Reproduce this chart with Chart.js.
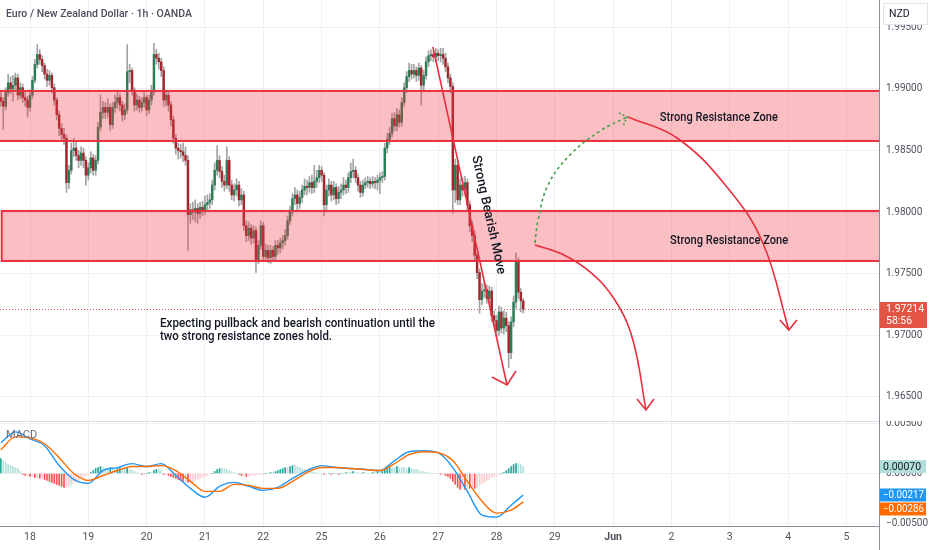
<!DOCTYPE html>
<html>
<head>
<meta charset="utf-8">
<script src="https://cdn.jsdelivr.net/npm/chart.js@4.4.1/dist/chart.umd.min.js"></script>
<style>
  html, body { margin: 0; padding: 0; background: #fff; }
  #wrap { position: relative; width: 932px; height: 550px; overflow: hidden; }
  #priceChart { position: absolute; left: 0; top: 0; width: 932px; height: 421px; }
  #macdChart { position: absolute; left: 0; top: 421px; width: 932px; height: 129px; }
</style>
</head>
<body>
<div id="wrap">
  <canvas id="priceChart" width="932" height="421"></canvas>
  <canvas id="macdChart" width="932" height="129"></canvas>
</div>
<script>
// time axis: one slot per trading hour, 0 = start of the 18th
const dayLabels = ['18', '19', '20', '21', '22', '25', '26', '27', '28', '29', 'Jun', '2', '3', '4', '5'];
const firstHour = -12;
const firstOpen = 1.9893;

const closes = [
  1.9890,1.9886,1.9897,1.9905,1.9900,1.9903,1.9909,1.9895,1.9901,1.9893,
  1.9891,1.9885,1.9895,1.9907,1.9920,1.9928,1.9924,1.9919,1.9912,1.9907,
  1.9911,1.9901,1.9891,1.9879,1.9868,1.9863,1.9860,1.9824,1.9834,1.9850,
  1.9852,1.9846,1.9842,1.9848,1.9842,1.9830,1.9836,1.9844,1.9834,1.9842,
  1.9869,1.9881,1.9885,1.9881,1.9885,1.9871,1.9885,1.9889,1.9893,1.9887,
  1.9879,1.9883,1.9914,1.9915,1.9899,1.9887,1.9891,1.9885,1.9889,1.9893,
  1.9883,1.9891,1.9898,1.9928,1.9925,1.9922,1.9915,1.9891,1.9895,1.9887,
  1.9875,1.9860,1.9852,1.9850,1.9849,1.9846,1.9842,1.9798,1.9802,1.9800,
  1.9803,1.9799,1.9804,1.9802,1.9806,1.9808,1.9810,1.9822,1.9834,1.9842,
  1.9833,1.9825,1.9822,1.9842,1.9822,1.9814,1.9818,1.9822,1.9810,1.9814,
  1.9789,1.9781,1.9787,1.9779,1.9785,1.9761,1.9773,1.9789,1.9764,1.9769,
  1.9763,1.9769,1.9764,1.9773,1.9771,1.9775,1.9777,1.9781,1.9793,1.9800,
  1.9811,1.9814,1.9807,1.9812,1.9818,1.9821,1.9820,1.9824,1.9820,1.9825,
  1.9828,1.9834,1.9830,1.9806,1.9818,1.9822,1.9814,1.9820,1.9811,1.9816,
  1.9818,1.9822,1.9820,1.9828,1.9833,1.9834,1.9828,1.9822,1.9816,1.9822,
  1.9824,1.9825,1.9823,1.9825,1.9824,1.9826,1.9828,1.9829,1.9852,1.9859,
  1.9864,1.9876,1.9870,1.9879,1.9873,1.9889,1.9901,1.9910,1.9915,1.9912,
  1.9915,1.9911,1.9917,1.9903,1.9911,1.9922,1.9927,1.9928,1.9926,1.9929,
  1.9927,1.9928,1.9925,1.9918,1.9909,1.9902,1.9818,1.9838,1.9810,1.9822,
  1.9818,1.9824,1.9806,1.9789,1.9781,1.9765,1.9751,1.9729,1.9736,1.9737,
  1.9730,1.9736,1.9716,1.9712,1.9704,1.9719,1.9706,1.9714,1.9708,1.9686,
  1.9711,1.9727,1.9760,1.9735,1.9728,1.97214
];

const highs = [
  1.9897,1.9893,1.9901,1.9912,1.9910,1.9911,1.9913,1.9912,1.9905,1.9904,
  1.9897,1.9894,1.9899,1.9910,1.9924,1.9936,1.9932,1.9927,1.9921,1.9916,
  1.9915,1.9913,1.9904,1.9893,1.9882,1.9872,1.9868,1.9863,1.9838,1.9856,
  1.9860,1.9857,1.9850,1.9853,1.9852,1.9845,1.9840,1.9849,1.9847,1.9846,
  1.9873,1.9895,1.9890,1.9889,1.9892,1.9888,1.9889,1.9895,1.9899,1.9896,
  1.9890,1.9888,1.9936,1.9920,1.9917,1.9901,1.9896,1.9894,1.9893,1.9897,
  1.9895,1.9895,1.9903,1.9937,1.9932,1.9929,1.9925,1.9918,1.9899,1.9898,
  1.9890,1.9878,1.9863,1.9856,1.9855,1.9856,1.9853,1.9846,1.9807,1.9808,
  1.9810,1.9807,1.9808,1.9809,1.9813,1.9814,1.9815,1.9826,1.9840,1.9854,
  1.9846,1.9837,1.9830,1.9853,1.9845,1.9826,1.9823,1.9827,1.9825,1.9819,
  1.9817,1.9793,1.9792,1.9790,1.9789,1.9788,1.9777,1.9793,1.9792,1.9774,
  1.9773,1.9773,1.9772,1.9777,1.9777,1.9779,1.9781,1.9786,1.9797,1.9805,
  1.9815,1.9820,1.9818,1.9817,1.9822,1.9827,1.9826,1.9829,1.9830,1.9838,
  1.9834,1.9838,1.9837,1.9832,1.9822,1.9827,1.9825,1.9825,1.9823,1.9821,
  1.9823,1.9828,1.9826,1.9832,1.9840,1.9843,1.9837,1.9831,1.9825,1.9826,
  1.9828,1.9829,1.9828,1.9829,1.9828,1.9830,1.9832,1.9833,1.9856,1.9864,
  1.9869,1.9880,1.9881,1.9884,1.9883,1.9893,1.9905,1.9914,1.9921,1.9920,
  1.9920,1.9918,1.9921,1.9919,1.9915,1.9926,1.9931,1.9932,1.9931,1.9933,
  1.9932,1.9933,1.9933,1.9929,1.9921,1.9912,1.9905,1.9843,1.9842,1.9827,
  1.9828,1.9829,1.9827,1.9809,1.9793,1.9785,1.9768,1.9754,1.9742,1.9743,
  1.9741,1.9740,1.9739,1.9720,1.9716,1.9724,1.9723,1.9720,1.9719,1.9711,
  1.9715,1.9732,1.9767,1.9763,1.9738,1.9730
];

const lows = [
  1.9886,1.9867,1.9883,1.9894,1.9896,1.9890,1.9899,1.9891,1.9892,1.9889,
  1.9886,1.9877,1.9882,1.9892,1.9905,1.9917,1.9920,1.9914,1.9908,1.9902,
  1.9903,1.9897,1.9887,1.9875,1.9862,1.9858,1.9855,1.9816,1.9819,1.9831,
  1.9845,1.9842,1.9836,1.9838,1.9836,1.9822,1.9826,1.9832,1.9830,1.9830,
  1.9839,1.9866,1.9876,1.9876,1.9877,1.9866,1.9868,1.9881,1.9884,1.9882,
  1.9874,1.9875,1.9880,1.9905,1.9895,1.9882,1.9883,1.9881,1.9882,1.9885,
  1.9878,1.9880,1.9887,1.9895,1.9920,1.9916,1.9910,1.9886,1.9886,1.9882,
  1.9870,1.9856,1.9847,1.9843,1.9844,1.9841,1.9838,1.9769,1.9791,1.9794,
  1.9792,1.9791,1.9795,1.9797,1.9798,1.9801,1.9803,1.9806,1.9818,1.9830,
  1.9828,1.9820,1.9817,1.9819,1.9817,1.9810,1.9809,1.9813,1.9805,1.9806,
  1.9785,1.9776,1.9777,1.9774,1.9775,1.9751,1.9758,1.9770,1.9760,1.9760,
  1.9759,1.9758,1.9760,1.9761,1.9766,1.9767,1.9770,1.9773,1.9778,1.9790,
  1.9797,1.9806,1.9802,1.9803,1.9808,1.9814,1.9814,1.9816,1.9815,1.9816,
  1.9820,1.9824,1.9825,1.9797,1.9802,1.9813,1.9809,1.9810,1.9806,1.9807,
  1.9811,1.9814,1.9815,1.9816,1.9824,1.9828,1.9824,1.9817,1.9812,1.9813,
  1.9819,1.9820,1.9819,1.9820,1.9819,1.9818,1.9815,1.9824,1.9826,1.9848,
  1.9855,1.9861,1.9866,1.9866,1.9869,1.9870,1.9886,1.9897,1.9906,1.9908,
  1.9909,1.9906,1.9907,1.9887,1.9899,1.9908,1.9918,1.9923,1.9922,1.9922,
  1.9923,1.9922,1.9920,1.9914,1.9905,1.9897,1.9799,1.9808,1.9806,1.9806,
  1.9813,1.9814,1.9801,1.9784,1.9776,1.9760,1.9746,1.9718,1.9725,1.9731,
  1.9726,1.9726,1.9711,1.9707,1.9699,1.9700,1.9702,1.9701,1.9703,1.9674,
  1.9681,1.9707,1.9722,1.9730,1.9719,1.9718
];

// MACD (12, 26, 9)
const macdHours = [-12,-6,0,6,12,18,24,30,36,42,48,54,60,66,72,78,84,90,96,102,108,114,120,126,132,138,144,150,156,162,168,174,180,186,192,198,203];
const macdLine = [
  0.0031,0.0042,0.0035,0.0028,0.0008,-0.0006,-0.0010,0.0003,0.0006,0.0010,0.0007,0.0010,-0.0002,
  -0.0015,-0.0024,-0.0013,-0.0009,-0.0013,-0.0017,-0.0014,-0.0005,0.0003,0.0008,0.0006,0.0005,
  0.0004,0.0003,0.0013,0.0022,0.0023,0.0021,0.0006,-0.0018,-0.0042,-0.0044,-0.0032,-0.00217
];
const signalLine = [
  0.0024,0.0037,0.0036,0.0030,0.0016,0.0000,-0.0007,-0.0002,0.0003,0.0007,0.0007,0.0008,0.0003,
  -0.0008,-0.0018,-0.0018,-0.0011,-0.0012,-0.0015,-0.0015,-0.0008,0.0001,0.0006,0.0006,0.0005,
  0.0004,0.0003,0.0010,0.0019,0.0022,0.0021,0.0013,-0.0008,-0.0028,-0.0040,-0.0037,-0.00286
];
const macdHist = [
  0.0015,0.0013,0.0011,0.0009,0.0008,0.0007,0.0006,0.0005,0.0002,-0.0001,
  -0.0002,-0.0002,-0.0003,-0.0003,-0.0004,-0.0004,-0.0005,-0.0005,-0.0006,-0.0007,
  -0.0008,-0.0009,-0.0010,-0.0011,-0.0012,-0.0013,-0.0014,-0.0014,-0.0013,-0.0011,
  -0.0010,-0.0008,-0.0007,-0.0005,-0.0004,-0.0002,-0.0001,0.0001,0.0003,0.0005,
  0.0006,0.0007,0.0006,0.0005,0.0005,0.0006,0.0005,0.0004,0.0005,0.0006,
  0.0005,0.0005,0.0006,0.0004,0.0003,0.0002,0.0001,0,-0.0001,-0.0001,
  0,0.0001,0.0001,0.0003,0.0004,0.0004,0.0003,-0.0001,-0.0001,-0.0002,
  -0.0003,-0.0004,-0.0005,-0.0006,-0.0007,-0.0008,-0.0008,-0.0009,-0.0009,-0.0008,
  -0.0007,-0.0006,-0.0005,-0.0004,-0.0003,-0.0002,-0.0001,0,0.0002,0.0004,
  0.0005,0.0005,0.0005,0.0004,0.0003,0.0002,0.0001,0,-0.0001,-0.0002,
  -0.0002,-0.0003,-0.0003,-0.0002,-0.0002,-0.0002,-0.0001,-0.0001,-0.0001,0,
  0,0.0001,0.0001,0.0002,0.0003,0.0004,0.0005,0.0006,0.0006,0.0007,
  0.0008,0.0008,0.0007,0.0006,0.0005,0.0004,0.0003,0.0003,0.0002,0.0001,
  0.0001,0,0,-0.0001,-0.0001,0,-0.0001,0,0,-0.0001,
  0,0,0.0001,0.0001,0.0001,0.0002,0.0001,0.0001,0,0.0001,
  0.0001,0,0,0.0001,0.0001,0.0002,0.0002,0.0003,0.0004,0.0005,
  0.0006,0.0006,0.0006,0.0007,0.0006,0.0006,0.0006,0.0005,0.0006,0.0005,
  0.0004,0.0004,0.0003,0.0002,0.0002,0.0001,0.0001,0,0,0,
  0,-0.0001,-0.0001,-0.0002,-0.0003,-0.0005,-0.0008,-0.0011,-0.0014,-0.0016,
  -0.0015,-0.0016,-0.0014,-0.0015,-0.0014,-0.0015,-0.0014,-0.0012,-0.0010,-0.0009,
  -0.0007,-0.0006,-0.0004,-0.0003,-0.0002,-0.0001,0,0.0001,0.0003,0.0005,
  0.0007,0.0009,0.0010,0.0010,0.0009,0.0007
];

// drawings on the price pane, in [hour, price]
const zones = [
  { top: 1.98984, bottom: 1.98578, from: -40 },
  { top: 1.98010, bottom: 1.97604, from: -11.65 }
];
const movePath  = [[165.8, 1.99341], [196.3, 1.96597]];
const moveHead  = [[190.1, 1.96662], [196.3, 1.96597], [200.0, 1.96711]];
const greenPath = [[207.8, 1.97750], [209.1, 1.97937], [213.2, 1.98221], [222.2, 1.98464], [234.6, 1.98659], [245.7, 1.98773]];
const greenHead = [[242.4, 1.98805], [245.7, 1.98773], [244.0, 1.98692]];
const dropPath  = [[207.8, 1.97734], [218.9, 1.97661], [230.5, 1.97515], [240.7, 1.97287], [248.1, 1.96963], [253.5, 1.96395]];
const dropHead  = [[249.8, 1.96484], [253.5, 1.96395], [256.8, 1.96484]];
const farPath   = [[246.1, 1.98773], [266.3, 1.98602], [286.8, 1.98205], [301.6, 1.97750], [312.3, 1.97044]];
const farHead   = [[308.6, 1.97125], [312.3, 1.97044], [315.6, 1.97125]];
const notes = [
  { text: 'Strong Resistance Zone', x: 283.5, y: 1.98765, align: 'center', width: 118 },
  { text: 'Strong Resistance Zone', x: 287.7, y: 1.97766, align: 'center', width: 118 },
  { text: 'Expecting pullback and bearish continuation until the', x: 53.5, y: 1.97093, align: 'left', width: 275 },
  { text: 'two strong resistance zones hold.', x: 53.5, y: 1.96987, align: 'left', width: 172 }
];
const moveNote = { text: 'Strong Bearish Move', x: 188.6, y: 1.97977, width: 132 };

Chart.defaults.font.family = "Roboto, 'Noto Sans', sans-serif";
Chart.defaults.color = '#50535e';

const gridColor = '#eef0f4';
const axisColor = '#8a8d96';
const upColor = '#2a7d57';
const downColor = '#a3262c';
const wickColor = '#a3a3a3';
const drawRed = '#e8303e';
const xMin = -12.35, xMax = 349.4;

const hours = closes.map((c, i) => firstHour + i);
const opens = closes.map((c, i) => (i ? closes[i - 1] : firstOpen));

function toPts(list) {
  return list.map(p => ({ x: p[0], y: p[1] }));
}
function pathSet(list, color, dash, tension) {
  return {
    type: 'line', data: toPts(list), borderColor: color, borderWidth: 1.6,
    borderDash: dash, pointRadius: 0, tension: tension, fill: false, order: 0
  };
}
// fixed axis sizes so both panes share the same x pixels
function lockAxis(w, h) {
  return s => {
    if (w != null) s.width = w;
    if (h != null) s.height = h;
    s.paddingTop = 0; s.paddingBottom = 0; s.paddingLeft = 0; s.paddingRight = 0;
  };
}
function fmt(v) {
  if (Math.abs(v) < 1e-9) return '0.00000';
  return (v < 0 ? '\u2212' : '') + Math.abs(v).toFixed(5);
}

const priceDecor = {
  id: 'priceDecor',
  beforeDatasetsDraw(chart) {
    const { ctx, chartArea: a, scales: { y } } = chart;
    const py = Math.round(y.getPixelForValue(closes[closes.length - 1])) + 0.5;
    ctx.save();
    ctx.strokeStyle = '#e25545';
    ctx.lineWidth = 1;
    ctx.setLineDash([1, 2]);
    ctx.beginPath();
    ctx.moveTo(a.left, py);
    ctx.lineTo(a.right, py);
    ctx.stroke();
    ctx.restore();
  },
  afterDatasetDraw(chart, args) {
    if (args.index !== 1) return;
    const { ctx, chartArea: a, scales: { x, y } } = chart;
    ctx.save();
    ctx.beginPath();
    ctx.rect(a.left, a.top, a.right - a.left, a.bottom - a.top);
    ctx.clip();
    zones.forEach(z => {
      const x0 = x.getPixelForValue(z.from);
      const y0 = y.getPixelForValue(z.top);
      const y1 = y.getPixelForValue(z.bottom);
      ctx.fillStyle = 'rgba(242, 54, 69, 0.32)';
      ctx.fillRect(x0, y0, a.right + 10 - x0, y1 - y0);
      ctx.strokeStyle = drawRed;
      ctx.lineWidth = 2;
      ctx.strokeRect(x0, y0, a.right + 10 - x0, y1 - y0);
    });
    ctx.restore();
  },
  afterDraw(chart) {
    const { ctx, chartArea: a, scales: { x, y } } = chart;
    ctx.save();
    ctx.fillStyle = '#131722';
    ctx.textBaseline = 'middle';
    ctx.font = "500 12px Roboto, 'Noto Sans', sans-serif";
    notes.forEach(n => {
      ctx.textAlign = n.align;
      ctx.fillText(n.text, x.getPixelForValue(n.x), y.getPixelForValue(n.y), n.width);
    });
    // label along the bearish move line
    const ax = x.getPixelForValue(movePath[0][0]), ay = y.getPixelForValue(movePath[0][1]);
    const bx = x.getPixelForValue(movePath[1][0]), by = y.getPixelForValue(movePath[1][1]);
    ctx.save();
    ctx.translate(x.getPixelForValue(moveNote.x), y.getPixelForValue(moveNote.y));
    ctx.rotate(Math.atan2(by - ay, bx - ax));
    ctx.textAlign = 'center';
    ctx.font = "500 13px Roboto, 'Noto Sans', sans-serif";
    ctx.fillText(moveNote.text, 0, 0, moveNote.width);
    ctx.restore();

    // header
    ctx.textAlign = 'left';
    ctx.fillStyle = '#4a4e5a';
    ctx.font = "500 11.5px Roboto, 'Noto Sans', sans-serif";
    ctx.fillText('Euro / New Zealand Dollar \u00b7 1h \u00b7 OANDA', 6, 14, 186);

    // currency box on the price axis
    ctx.fillStyle = '#fff';
    ctx.fillRect(883, 3, 44, 22);
    ctx.strokeStyle = '#e0e3eb';
    ctx.lineWidth = 1;
    ctx.strokeRect(883.5, 3.5, 44, 21);
    ctx.fillStyle = '#131722';
    ctx.font = "10.5px Roboto, 'Noto Sans', sans-serif";
    ctx.fillText('NZD', 889, 14.5);

    // last price tag
    const last = closes[closes.length - 1];
    const py = y.getPixelForValue(last);
    ctx.fillStyle = '#e25545';
    ctx.fillRect(a.right + 1, py - 7, 47, 26);
    ctx.fillStyle = '#fff';
    ctx.font = "10.5px Roboto, 'Noto Sans', sans-serif";
    ctx.fillText(last.toFixed(5), 886, py + 0.5, 38);
    ctx.fillText('58:56', 886, py + 12);
    ctx.restore();
  }
};

new Chart(document.getElementById('priceChart'), {
  type: 'bar',
  data: {
    datasets: [
      {
        label: 'wicks',
        data: hours.map((h, i) => ({ x: h, y: [lows[i], highs[i]] })),
        backgroundColor: wickColor,
        barThickness: 1,
        grouped: false,
        order: 2
      },
      {
        label: 'bodies',
        data: hours.map((h, i) => ({ x: h, y: [opens[i], closes[i]] })),
        backgroundColor: closes.map((c, i) => (c >= opens[i] ? upColor : downColor)),
        barThickness: 1.8,
        minBarLength: 1,
        grouped: false,
        order: 1
      },
      pathSet(movePath, drawRed, [], 0),
      pathSet(moveHead, drawRed, [], 0),
      pathSet(dropPath, drawRed, [], 0.4),
      pathSet(dropHead, drawRed, [], 0),
      pathSet(farPath, drawRed, [], 0.4),
      pathSet(farHead, drawRed, [], 0),
      pathSet(greenPath, '#43a047', [3, 3], 0.4),
      pathSet(greenHead, '#43a047', [2, 2], 0)
    ]
  },
  options: {
    responsive: false,
    animation: false,
    events: [],
    layout: { padding: 0 },
    plugins: { legend: { display: false }, tooltip: { enabled: false } },
    scales: {
      x: {
        type: 'linear', min: xMin, max: xMax, offset: false,
        grid: { color: gridColor, drawTicks: false, offset: false },
        border: { display: false },
        ticks: { display: false, stepSize: 24, includeBounds: false },
        afterFit: lockAxis(null, 0)
      },
      y: {
        position: 'right', min: 1.96305, max: 1.99722, beginAtZero: false,
        grid: { color: gridColor, drawTicks: false },
        border: { color: axisColor },
        ticks: { stepSize: 0.005, includeBounds: false, padding: 7, color: '#50535e', font: { size: 10 }, callback: v => v.toFixed(5) },
        afterFit: lockAxis(53, null)
      }
    }
  },
  plugins: [priceDecor]
});

const histColors = macdHist.map((v, i) => {
  const prev = i ? macdHist[i - 1] : 0;
  if (v >= 0) return v > prev ? '#26a69a' : '#b2dfdb';
  return v < prev ? '#ff5252' : '#ffcdd2';
});

const macdDecor = {
  id: 'macdDecor',
  afterDraw(chart) {
    const { ctx, chartArea: a, scales: { y } } = chart;
    ctx.save();
    ctx.strokeStyle = '#dcdfe6';
    ctx.lineWidth = 1;
    ctx.beginPath();
    ctx.moveTo(0, 0.5);
    ctx.lineTo(a.right, 0.5);
    ctx.stroke();
    ctx.strokeStyle = axisColor;
    ctx.beginPath();
    ctx.moveTo(a.right + 0.5, a.bottom);
    ctx.lineTo(a.right + 0.5, chart.height);
    ctx.stroke();

    ctx.fillStyle = '#6a6d78';
    ctx.font = "11px Roboto, 'Noto Sans', sans-serif";
    ctx.textBaseline = 'middle';
    ctx.textAlign = 'left';
    ctx.fillText('MACD', 6, 14);

    const tags = [
      { v: macdHist[macdHist.length - 1], bg: '#b2dfdb', fg: '#131722' },
      { v: macdLine[macdLine.length - 1], bg: '#2196f3', fg: '#fff' },
      { v: signalLine[signalLine.length - 1], bg: '#ff6d00', fg: '#fff' }
    ].map(t => Object.assign(t, { py: y.getPixelForValue(t.v) }))
     .sort((p, q) => p.py - q.py);
    for (let i = 1; i < tags.length; i++) {
      if (tags[i].py - tags[i - 1].py < 14) tags[i].py = tags[i - 1].py + 14;
    }
    ctx.font = "10.5px Roboto, 'Noto Sans', sans-serif";
    tags.forEach(t => {
      ctx.fillStyle = t.bg;
      ctx.fillRect(a.right + 1, t.py - 6.5, 46, 13);
      ctx.fillStyle = t.fg;
      ctx.fillText(fmt(t.v), a.right + 4, t.py + 0.5, 41);
    });
    ctx.restore();
  }
};

new Chart(document.getElementById('macdChart'), {
  type: 'bar',
  data: {
    datasets: [
      {
        label: 'Histogram',
        data: hours.map((h, i) => ({ x: h, y: macdHist[i] })),
        backgroundColor: histColors,
        barThickness: 1,
        grouped: false,
        order: 2
      },
      {
        type: 'line', label: 'MACD',
        data: macdHours.map((h, i) => ({ x: h, y: macdLine[i] })),
        borderColor: '#2196f3', borderWidth: 1.4, pointRadius: 0,
        cubicInterpolationMode: 'monotone', order: 1
      },
      {
        type: 'line', label: 'Signal',
        data: macdHours.map((h, i) => ({ x: h, y: signalLine[i] })),
        borderColor: '#ff6d00', borderWidth: 1.4, pointRadius: 0,
        cubicInterpolationMode: 'monotone', order: 0
      }
    ]
  },
  options: {
    responsive: false,
    animation: false,
    events: [],
    layout: { padding: 0 },
    plugins: { legend: { display: false }, tooltip: { enabled: false } },
    scales: {
      x: {
        type: 'linear', min: xMin, max: xMax, offset: false,
        grid: { color: gridColor, drawTicks: false, offset: false },
        border: { color: axisColor },
        ticks: {
          stepSize: 24, includeBounds: false, autoSkip: false, maxRotation: 0, padding: 5,
          color: '#50535e',
          font: c => ({ size: 10.5, weight: c.tick && c.tick.value === 240 ? 'bold' : 'normal' }),
          callback: v => dayLabels[Math.round(v / 24)] ?? ''
        },
        afterFit: lockAxis(null, 24)
      },
      y: {
        position: 'right', min: -0.0053, max: 0.0053, beginAtZero: false,
        grid: { color: gridColor, drawTicks: false },
        border: { color: axisColor },
        ticks: { stepSize: 0.005, includeBounds: false, padding: 7, color: '#50535e', font: { size: 10 }, callback: v => fmt(v) },
        afterFit: lockAxis(53, null)
      }
    }
  },
  plugins: [macdDecor]
});
</script>
</body>
</html>
